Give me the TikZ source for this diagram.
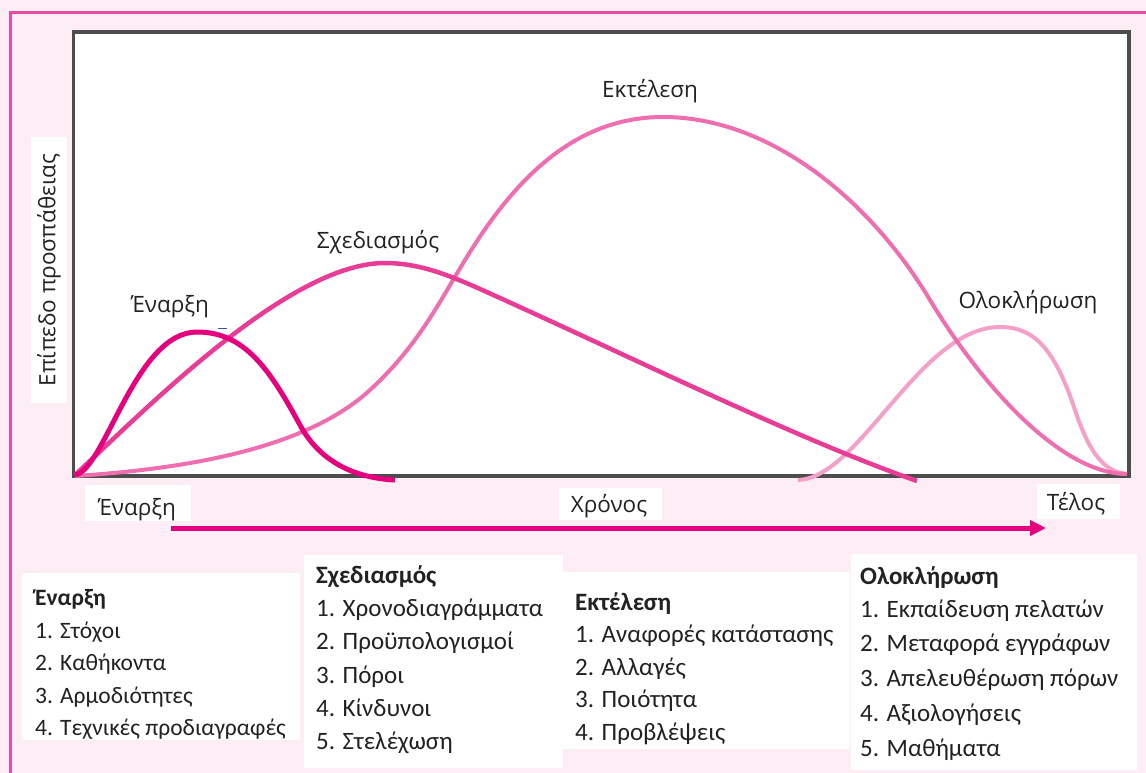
\documentclass[tikz,border=0pt]{standalone}
\usepackage{fontspec}
\setmainfont{Carlito}
\newfontfamily\chartfont{Open Sans}
\usetikzlibrary{arrows.meta}
\definecolor{pagebg}{HTML}{FDEDF4}
\definecolor{edgepink}{HTML}{EC4A9F}
\definecolor{framegray}{HTML}{4D4D4D}
\definecolor{inkgray}{HTML}{222222}
\definecolor{startpink}{HTML}{E6007E}
\definecolor{planpink}{HTML}{E93C96}
\definecolor{execpink}{HTML}{EE6EAF}
\definecolor{closepink}{HTML}{F5A0C8}
\begin{document}
\begin{tikzpicture}[x=1pt,y=-1pt,
  listhead/.style={anchor=base west, inner sep=0pt, text=inkgray,
    font=\fontsize{25}{30}\selectfont\bfseries},
  listitem/.style={anchor=base west, inner sep=0pt, text=inkgray,
    font=\fontsize{25}{30}\selectfont},
  firsthead/.style={font=\fontsize{23.5}{28}\selectfont\bfseries},
  firstlist/.style={font=\fontsize{23.5}{28}\selectfont},
  chartlabel/.style={anchor=base, inner sep=0pt, text=inkgray,
    font=\chartfont\fontsize{22.5}{27}\selectfont},
  whitebox/.style={fill=white},
  phasecurve/.style={line width=#1, line cap=butt, line join=round},
  timearrow/.style={draw=startpink, line width=5pt,
    -{Triangle[length=16pt,width=15pt]}}
]
\useasboundingbox (0,0) rectangle (1146,773);

% page background and pink edge
\fill[pagebg] (0,0) rectangle (1146,773);
\draw[edgepink, line width=3.5pt] (10.5,790) -- (10.5,12.5) -- (1160,12.5);

% plot area
\draw[framegray, line width=3.5pt, fill=white] (73.5,32) rectangle (1129,476);

% effort curves of the four phases
\draw[closepink, phasecurve=4pt]
  (798,480) .. controls (860,478) and (920,327) .. (1000,327)
  .. controls (1035,327) and (1055,350) .. (1075,410)
  .. controls (1090,455) and (1105,472) .. (1127,474);
\draw[execpink, phasecurve=4pt]
  (75,476) .. controls (200,468) and (310,445) .. (370,390)
  .. controls (420,344) and (440,300) .. (470,252)
  .. controls (520,172) and (580,117) .. (663,117)
  .. controls (770,117) and (870,200) .. (930,300)
  .. controls (980,383) and (1060,474) .. (1127,474);
\draw[planpink, phasecurve=4.5pt]
  (75,475) .. controls (150,405) and (290,263) .. (385,263)
  .. controls (425,263) and (460,280) .. (500,298)
  .. controls (650,366) and (800,440) .. (917,481);
\draw[startpink, phasecurve=5pt]
  (75,475) .. controls (105,470) and (135,332) .. (197,332)
  .. controls (245,332) and (270,370) .. (300,425)
  .. controls (320,462) and (355,478) .. (395,480);
\draw[gray!60!blue, line width=1.5pt] (218,328.5) -- (227,328.5);

% curve labels
\node[chartlabel] (lab-start) at (170,312) {Έναρξη};
\node[chartlabel] (lab-plan) at (378,248) {Σχεδιασμός};
\node[chartlabel] (lab-exec) at (650,98) {Εκτέλεση};
\node[chartlabel] (lab-close) at (1028,308) {Ολοκλήρωση};

% vertical axis label
\fill[whitebox] (31,137) rectangle (67,403);
\node[chartlabel, anchor=center, rotate=90] (ylab) at (49,270) {Επίπεδο προσπάθειας};

% time axis
\fill[whitebox] (85,485) rectangle (191,521);
\node[chartlabel] (ax-start) at (137,515) {Έναρξη};
\fill[whitebox] (559,488) rectangle (662,520);
\node[chartlabel] (ax-time) at (609,512) {Χρόνος};
\fill[whitebox] (1037,484) rectangle (1120,519);
\node[chartlabel] (ax-end) at (1076,510) {Τέλος};
\coordinate (t-begin) at (171,528);
\coordinate (t-end) at (1046,528);
\draw[timearrow] (t-begin) -- (t-end);

% phase task lists
\fill[whitebox] (22,573) rectangle (300,740);
\node[listhead, firsthead] (s-h) at (35,605) {Έναρξη};
\node[listitem, firstlist] (s-1) at (35,638) {1. Στόχοι};
\node[listitem, firstlist] (s-2) at (35,670.5) {2. Καθήκοντα};
\node[listitem, firstlist] (s-3) at (35,703) {3. Αρμοδιότητες};
\node[listitem, firstlist] (s-4) at (35,735.5) {4. Τεχνικές προδιαγραφές};

\fill[whitebox] (304,555) rectangle (563,768);
\node[listhead] (p-h) at (316,583) {Σχεδιασμός};
\node[listitem] (p-1) at (316,616) {1. Χρονοδιαγράμματα};
\node[listitem] (p-2) at (316,649) {2. Προϋπολογισμοί};
\node[listitem] (p-3) at (316,683) {3. Πόροι};
\node[listitem] (p-4) at (316,716) {4. Κίνδυνοι};
\node[listitem] (p-5) at (316,749) {5. Στελέχωση};

\fill[whitebox] (563,572) rectangle (850,749);
\node[listhead] (e-h) at (575,610) {Εκτέλεση};
\node[listitem] (e-1) at (575,642.5) {1. Αναφορές κατάστασης};
\node[listitem] (e-2) at (575,675) {2. Αλλαγές};
\node[listitem] (e-3) at (575,707.5) {3. Ποιότητα};
\node[listitem] (e-4) at (575,740) {4. Προβλέψεις};

\fill[whitebox] (851,554) rectangle (1137,770);
\node[listhead] (c-h) at (860,584) {Ολοκλήρωση};
\node[listitem] (c-1) at (860,617) {1. Εκπαίδευση πελατών};
\node[listitem] (c-2) at (860,651) {2. Μεταφορά εγγράφων};
\node[listitem] (c-3) at (860,686) {3. Απελευθέρωση πόρων};
\node[listitem] (c-4) at (860,721) {4. Αξιολογήσεις};
\node[listitem] (c-5) at (860,756) {5. Μαθήματα};
\end{tikzpicture}
\end{document}
